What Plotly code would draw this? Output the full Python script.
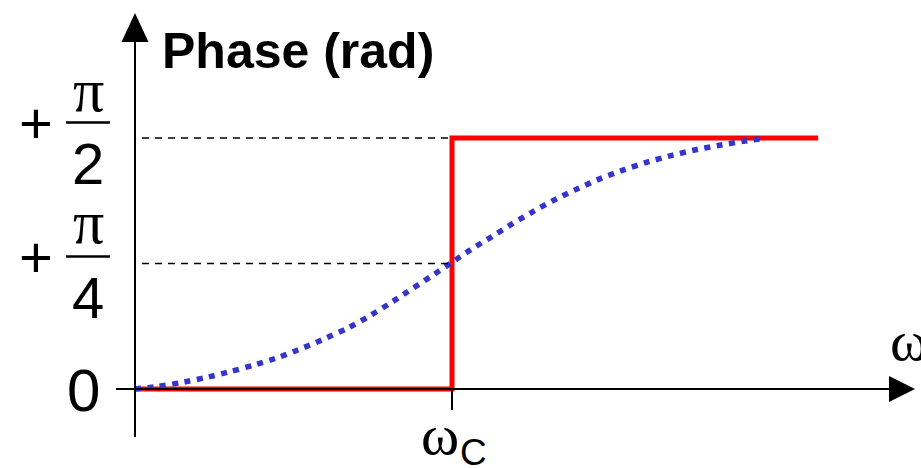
import math
import plotly.graph_objects as go

W, H = 921, 468

# ---------------- data ----------------
wc = 1.0  # cutoff frequency (normalised)
step_x = [0.0, 1.0, 1.0, 2.155]
step_y = [0.0, 0.0, math.pi / 2, math.pi / 2]

curve_x = [0.000, 0.073, 0.148, 0.224, 0.303, 0.375, 0.451, 0.514, 0.593,
           0.666, 0.732, 0.801, 0.861, 0.931, 0.997, 1.060, 1.126, 1.192,
           1.259, 1.331, 1.401, 1.473, 1.546, 1.618, 1.697, 1.773, 1.849,
           1.924, 1.972]
curve_y = [0.000, 0.016, 0.041, 0.072, 0.110, 0.150, 0.197, 0.244, 0.310,
           0.376, 0.448, 0.532, 0.610, 0.701, 0.789, 0.873, 0.954, 1.036,
           1.114, 1.192, 1.258, 1.321, 1.374, 1.421, 1.464, 1.499, 1.527,
           1.552, 1.565]

tick_vals = [0.0, math.pi / 4, math.pi / 2]
tick_sign = ["", "+", "+"]
tick_num = ["0", "π", "π"]
tick_den = ["", "4", "2"]
guide_vals = [math.pi / 4, math.pi / 2]
y_title = "Phase (rad)"
x_title = "ω"
wc_label = ("ω", "C")

# ---------------- layout helpers (pixel calibration) ----------------
OX, OY = 135, 389          # origin in pixels
PX_PER_X = 317             # pixels per unit of omega/omega_c
PX_PER_Y = 251 / (math.pi / 2)


def fx(px):
    return (px - OX) / PX_PER_X


def fy(py):
    return (OY - py) / PX_PER_Y


def to_py(v):
    return OY - v * PX_PER_Y


def pxp(px):
    return px / W


def pyp(py):
    return 1 - py / H


fig = go.Figure()

fig.add_trace(go.Scatter(x=step_x, y=step_y, mode="lines",
                         line=dict(color="#ff0000", width=5),
                         hoverinfo="skip"))
fig.add_trace(go.Scatter(x=curve_x, y=curve_y, mode="lines",
                         line=dict(color="#3535cc", width=5.5, dash="6px,6.5px",
                                   shape="spline", smoothing=0.6),
                         hoverinfo="skip"))

shapes = []
# axes
shapes.append(dict(type="line", xref="x", yref="y", x0=0, x1=0,
                   y0=fy(437), y1=fy(38), line=dict(color="black", width=2)))
shapes.append(dict(type="path", xref="x", yref="y",
                   path=f"M{fx(121.5)},{fy(42)} L{fx(148.5)},{fy(42)} L{fx(135)},{fy(13)} Z",
                   fillcolor="black", line=dict(color="black", width=0)))
shapes.append(dict(type="line", xref="x", yref="y", x0=fx(116), x1=fx(892),
                   y0=0, y1=0, line=dict(color="black", width=2)))
shapes.append(dict(type="path", xref="x", yref="y",
                   path=f"M{fx(889)},{fy(376)} L{fx(889)},{fy(402)} L{fx(915)},{fy(389)} Z",
                   fillcolor="black", line=dict(color="black", width=0)))
# omega_c tick
shapes.append(dict(type="line", xref="x", yref="y", x0=wc, x1=wc,
                   y0=0, y1=fy(410), line=dict(color="black", width=2)))
# dashed guides
for v in guide_vals:
    shapes.append(dict(type="line", xref="x", yref="y", x0=fx(142), x1=fx(450),
                       y0=v, y1=v, line=dict(color="black", width=1.5, dash="7px,6px")))

annotations = []
SANS = "Liberation Sans, Arial, sans-serif"
SERIF = "Liberation Serif, Times New Roman, serif"

annotations.append(dict(xref="paper", yref="paper", x=pxp(160), y=pyp(51),
                        xanchor="left", yanchor="middle", showarrow=False,
                        text=f"<b>{y_title}</b>",
                        font=dict(family=SANS, size=50, color="black")))

bar_shift = [0, -7, -15.5]   # fraction bar offset from tick level (px)
num_gap = [0, -35, -33]      # numerator centre offset from bar (px)
for v, s, n, d, sh, ng in zip(tick_vals, tick_sign, tick_num, tick_den, bar_shift, num_gap):
    py = to_py(v)
    if d == "":
        annotations.append(dict(xref="paper", yref="paper", x=pxp(83), y=pyp(py + 1),
                                xanchor="center", yanchor="middle", showarrow=False,
                                text=n, font=dict(family=SANS, size=60, color="black")))
        continue
    bar = py + sh
    shapes.append(dict(type="line", xref="paper", yref="paper",
                       x0=pxp(66), x1=pxp(110), y0=pyp(bar), y1=pyp(bar),
                       line=dict(color="black", width=2.5)))
    annotations.append(dict(xref="paper", yref="paper", x=pxp(36), y=pyp(bar),
                            xanchor="center", yanchor="middle", showarrow=False,
                            text=s, font=dict(family=SANS, size=58, color="black")))
    annotations.append(dict(xref="paper", yref="paper", x=pxp(88), y=pyp(bar + ng),
                            xanchor="center", yanchor="middle", showarrow=False,
                            text=n, font=dict(family=SERIF, size=62, color="black")))
    annotations.append(dict(xref="paper", yref="paper", x=pxp(88), y=pyp(bar + 41),
                            xanchor="center", yanchor="middle", showarrow=False,
                            text=d, font=dict(family=SANS, size=58, color="black")))

# omega_c label
annotations.append(dict(xref="x", yref="paper", x=wc, xshift=-12, y=pyp(434),
                        xanchor="center", yanchor="middle", showarrow=False,
                        text=wc_label[0], font=dict(family=SERIF, size=58, color="black")))
annotations.append(dict(xref="x", yref="paper", x=wc, xshift=21, y=pyp(452),
                        xanchor="center", yanchor="middle", showarrow=False,
                        text=wc_label[1], font=dict(family=SANS, size=37, color="black")))
# omega axis label (cut by the edge, as in the original)
annotations.append(dict(xref="paper", yref="paper", x=pxp(909), y=pyp(340),
                        xanchor="center", yanchor="middle", showarrow=False,
                        text=x_title, font=dict(family=SERIF, size=58, color="black")))

fig.update_layout(
    width=W, height=H,
    margin=dict(l=0, r=0, t=0, b=0),
    paper_bgcolor="white", plot_bgcolor="white",
    showlegend=False,
    xaxis=dict(range=[fx(0), fx(W)], visible=False, fixedrange=True),
    yaxis=dict(range=[fy(H), fy(0)], visible=False, fixedrange=True),
    shapes=shapes, annotations=annotations,
)

fig.write_html("out.html", config={"displayModeBar": False},
               post_script="document.body.style.margin='0';document.body.style.padding='0';")
